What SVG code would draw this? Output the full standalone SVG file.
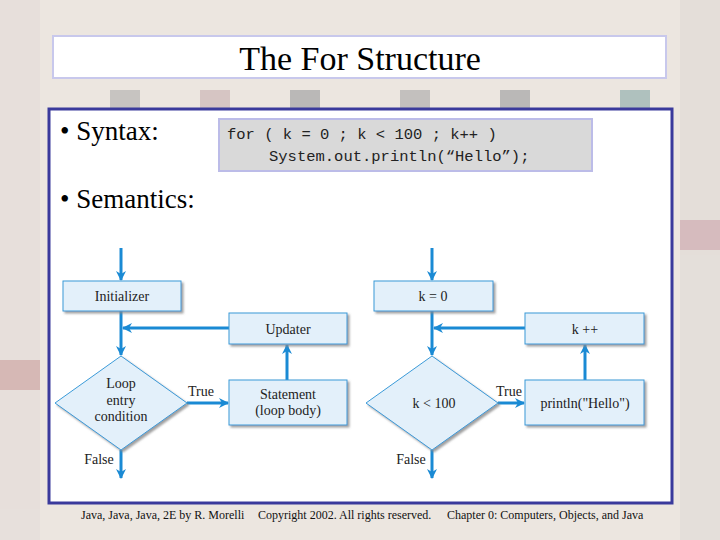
<svg xmlns="http://www.w3.org/2000/svg" width="720" height="540" viewBox="0 0 720 540">
<defs>
<marker id="ah" markerWidth="10" markerHeight="10" refX="9" refY="5" orient="auto" markerUnits="userSpaceOnUse"><path d="M0,0 L10,5 L0,10 L3,5 z" fill="#1a8ad4"/></marker>
<filter id="sh" x="-10%" y="-10%" width="130%" height="130%"><feDropShadow dx="2" dy="2" stdDeviation="0.8" flood-color="#888" flood-opacity="0.8"/></filter>
</defs>
<style>
.bx{fill:#e3f0fa;stroke:#3a9ad8;stroke-width:1;filter:url(#sh)}
.t{font-family:"Liberation Serif",serif;font-size:14px;fill:#222;text-anchor:middle}
.c{stroke:#1a8ad4;stroke-width:3;fill:none}
.f{font-family:"Liberation Serif",serif;font-size:12px;fill:#111}
.s{font-family:"Liberation Serif",serif;fill:#000}
.m{font-family:"Liberation Mono",monospace;font-size:15.5px;fill:#222}
</style>
<rect width="720" height="540" fill="#ece6e0"/>
<g opacity="0.6">
<rect x="0" y="0" width="40" height="540" fill="#e4dcd8"/>
<rect x="680" y="0" width="40" height="540" fill="#e0dad6"/>
<rect x="110" y="90" width="30" height="18" fill="#b0aeae"/>
<rect x="200" y="90" width="30" height="18" fill="#c8b0b0"/>
<rect x="290" y="90" width="30" height="18" fill="#9a9a9c"/>
<rect x="400" y="90" width="30" height="18" fill="#a8a8a8"/>
<rect x="500" y="90" width="30" height="18" fill="#9a9a9c"/>
<rect x="620" y="90" width="30" height="18" fill="#88aaa8"/>
<rect x="0" y="360" width="40" height="30" fill="#c89a9a"/>
<rect x="680" y="220" width="40" height="30" fill="#c8a0a8"/>
</g>
<rect x="53" y="36" width="613" height="42" fill="#fff" stroke="#c8c8ec" stroke-width="2"/>
<text class="s" x="360" y="70" font-size="34" text-anchor="middle">The For Structure</text>
<rect x="49" y="109" width="623" height="394" fill="#fff" stroke="#3a3a9c" stroke-width="3"/>
<text class="s" x="60" y="140" font-size="27">• Syntax:</text>
<text class="s" x="60" y="208" font-size="27">• Semantics:</text>
<rect x="219" y="119" width="373" height="52" fill="#d9d9d9" stroke="#bcbce8" stroke-width="2"/>
<text class="m"><tspan x="227" y="139" xml:space="preserve">for ( k = 0 ; k &lt; 100 ; k++ )</tspan><tspan x="269" y="161">System.out.println(“Hello”);</tspan></text>
<g id="connectors">
<path class="c" d="M121,248 V280" marker-end="url(#ah)"/>
<path class="c" d="M121,311 V355" marker-end="url(#ah)"/>
<path class="c" d="M229,328 H123" marker-end="url(#ah)"/>
<path class="c" d="M187,403 H228" marker-end="url(#ah)"/>
<path class="c" d="M287,380 V345" marker-end="url(#ah)"/>
<path class="c" d="M121,450 V478" marker-end="url(#ah)"/>
<path class="c" d="M432,248 V280" marker-end="url(#ah)"/>
<path class="c" d="M432,311 V355" marker-end="url(#ah)"/>
<path class="c" d="M525,328 H434" marker-end="url(#ah)"/>
<path class="c" d="M498,403 H524" marker-end="url(#ah)"/>
<path class="c" d="M585,380 V345" marker-end="url(#ah)"/>
<path class="c" d="M432,450 V478" marker-end="url(#ah)"/>
</g>
<g id="init"><rect class="bx" x="63" y="281" width="118" height="30"/><text class="t" x="122" y="301">Initializer</text></g>
<g id="upd"><rect class="bx" x="229" y="313" width="118" height="31"/><text class="t" x="288" y="334">Updater</text></g>
<g id="cond"><polygon class="bx" points="121,356 187,403 121,450 55,403"/><text class="t" x="121" y="388">Loop</text><text class="t" x="121" y="405">entry</text><text class="t" x="121" y="421">condition</text></g>
<g id="stmt"><rect class="bx" x="229" y="380" width="118" height="45"/><text class="t" x="288" y="399">Statement</text><text class="t" x="288" y="415">(loop body)</text></g>
<text class="t" x="201" y="396">True</text>
<text class="t" x="99" y="464">False</text>
<g id="k0"><rect class="bx" x="374" y="281" width="119" height="30"/><text class="t" x="433" y="301">k = 0</text></g>
<g id="kpp"><rect class="bx" x="525" y="313" width="119" height="31"/><text class="t" x="585" y="334">k ++</text></g>
<g id="cond2"><polygon class="bx" points="432,356 498,403 432,450 366,403"/><text class="t" x="434" y="408">k &lt; 100</text></g>
<g id="pr"><rect class="bx" x="525" y="380" width="119" height="45"/><text class="t" x="585" y="408">println("Hello")</text></g>
<text class="t" x="509" y="396">True</text>
<text class="t" x="411" y="464">False</text>
<text class="f" x="81" y="519">Java, Java, Java, 2E by R. Morelli</text>
<text class="f" x="258" y="519">Copyright 2002. All rights reserved.</text>
<text class="f" x="447" y="519">Chapter 0: Computers, Objects, and Java</text>
</svg>
